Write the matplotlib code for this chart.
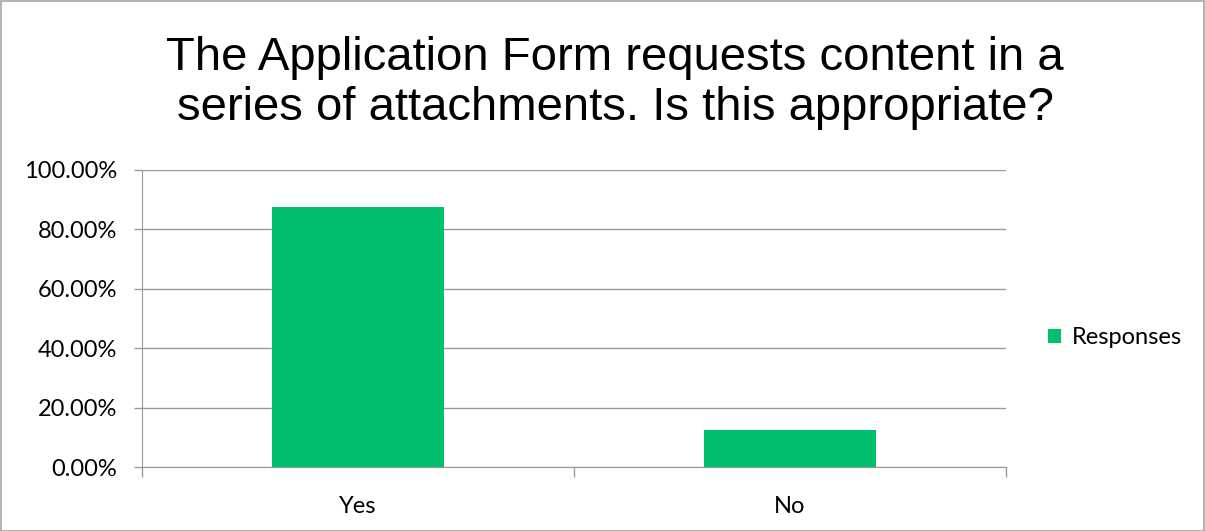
import matplotlib.pyplot as plt
from matplotlib.patches import Rectangle
from matplotlib.ticker import FuncFormatter, FixedLocator

categories = ["Yes", "No"]
responses = [0.875, 0.125]
y_ticks = [0.0, 0.2, 0.4, 0.6, 0.8, 1.0]

title = "The Application Form requests content in a\nseries of attachments. Is this appropriate?"
bar_color = "#00BF6F"
grid_color = "#9A9A9A"

W, H = 1205, 531
fig = plt.figure(figsize=(W / 100, H / 100), dpi=100)
ax = fig.add_axes([142 / W, 1 - 467 / H, (1006 - 142) / W, (467 - 170) / H])

x = list(range(len(categories)))
bars = ax.bar(x, responses, width=0.4, color=bar_color, label="Responses", zorder=3)

ax.set_xlim(-0.5, len(categories) - 0.5)
ax.set_ylim(0, 1.0)
ax.set_yticks(y_ticks)
ax.yaxis.set_major_formatter(FuncFormatter(lambda v, _: f"{v * 100:.2f}%"))
ax.set_xticks(x)
ax.set_xticklabels(categories)
# category separators as tick marks on the x axis
ax.xaxis.set_minor_locator(FixedLocator([-0.5, 0.5, 1.5]))
ax.tick_params(axis="x", which="major", length=0, pad=21)
ax.tick_params(axis="x", which="minor", length=7, color=grid_color, width=1)
ax.tick_params(axis="y", length=6, color=grid_color, width=1, pad=12)

for lab in ax.get_xticklabels() + ax.get_yticklabels():
    lab.set_fontfamily("Lato")
    lab.set_fontsize(17)
    lab.set_color("#000000")

ax.grid(axis="y", color=grid_color, linewidth=1, zorder=0)
for side in ("top", "right"):
    ax.spines[side].set_visible(False)
ax.spines["left"].set_color(grid_color)
ax.spines["bottom"].set_color(grid_color)

fig.text(615 / W, 1 - 83 / H, title, ha="center", va="center",
         fontsize=34, family="Liberation Sans", linespacing=1.2)

leg = fig.legend(handles=[bars], labels=["Responses"], loc="center left",
                 bbox_to_anchor=(1048 / W, 1 - 338 / H), frameon=False,
                 borderpad=0, borderaxespad=0,
                 handlelength=0.55, handleheight=0.55, handletextpad=0.45,
                 prop={"family": "Lato", "size": 17})

fig.patches.append(Rectangle((0.5 / W, 0.5 / H), 1 - 1.5 / W, 1 - 1.5 / H,
                             transform=fig.transFigure, fill=False,
                             edgecolor="#A6A6A6", linewidth=1.2))

fig.savefig("out.png", dpi=100)
